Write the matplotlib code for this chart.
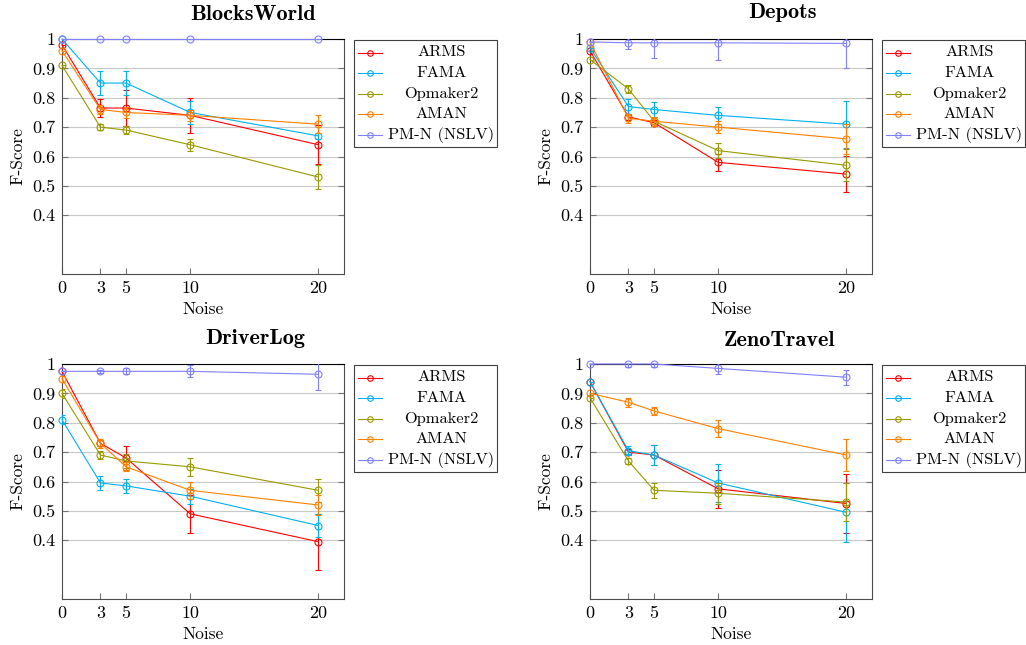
import matplotlib
matplotlib.use("Agg")
from matplotlib import pyplot as plt
from matplotlib.patches import Rectangle
from matplotlib.lines import Line2D

plt.rcParams['font.family'] = 'cmr10'
plt.rcParams['axes.formatter.use_mathtext'] = True
plt.rcParams['font.size'] = 12

noise = [0, 3, 5, 10, 20]
methods = ['ARMS', 'FAMA', 'Opmaker2', 'AMAN', 'PM-N (NSLV)']
colors = ['#ff0000', '#00b0f0', '#999900', '#ff8000', '#8080ff']
domains = ['BlocksWorld', 'Depots', 'DriverLog', 'ZenoTravel']

# rows follow methods: ARMS, FAMA, Opmaker2, AMAN, PM-N
blocks_mean = [[0.98, 0.765, 0.765, 0.74, 0.64],
               [1.0, 0.85, 0.85, 0.75, 0.67],
               [0.91, 0.70, 0.69, 0.64, 0.53],
               [0.96, 0.76, 0.75, 0.74, 0.71],
               [1.0, 1.0, 1.0, 1.0, 1.0]]
blocks_err = [[0.0, 0.03, 0.06, 0.06, 0.066],
              [0.0, 0.04, 0.04, 0.04, 0.01],
              [0.0, 0.01, 0.015, 0.02, 0.04],
              [0.0, 0.015, 0.02, 0.02, 0.03],
              [0.0, 0.0, 0.0, 0.0, 0.0]]

depots_mean = [[0.96, 0.735, 0.715, 0.58, 0.54],
               [0.97, 0.77, 0.76, 0.74, 0.71],
               [0.93, 0.83, 0.72, 0.62, 0.57],
               [0.99, 0.73, 0.72, 0.70, 0.66],
               [0.99, 0.987, 0.987, 0.987, 0.985]]
depots_err = [[0.0, 0.01, 0.01, 0.03, 0.06],
              [0.0, 0.025, 0.025, 0.03, 0.08],
              [0.0, 0.015, 0.015, 0.025, 0.055],
              [0.0, 0.015, 0.015, 0.02, 0.05],
              [0.0, 0.02, 0.05, 0.06, 0.085]]

driver_mean = [[0.975, 0.73, 0.68, 0.49, 0.395],
               [0.81, 0.595, 0.585, 0.55, 0.45],
               [0.90, 0.69, 0.67, 0.65, 0.57],
               [0.95, 0.73, 0.65, 0.57, 0.52],
               [0.975, 0.975, 0.975, 0.975, 0.965]]
driver_err = [[0.0, 0.01, 0.04, 0.065, 0.095],
              [0.015, 0.025, 0.025, 0.025, 0.04],
              [0.015, 0.015, 0.025, 0.03, 0.04],
              [0.01, 0.015, 0.015, 0.03, 0.035],
              [0.0, 0.005, 0.01, 0.02, 0.055]]

zeno_mean = [[0.94, 0.70, 0.69, 0.575, 0.525],
             [0.94, 0.705, 0.69, 0.595, 0.495],
             [0.885, 0.67, 0.57, 0.56, 0.53],
             [0.90, 0.87, 0.84, 0.78, 0.69],
             [1.0, 1.0, 1.0, 0.985, 0.955]]
zeno_err = [[0.0, 0.01, 0.035, 0.065, 0.10],
            [0.0, 0.015, 0.035, 0.065, 0.10],
            [0.0, 0.01, 0.025, 0.035, 0.065],
            [0.0, 0.015, 0.015, 0.03, 0.055],
            [0.0, 0.01, 0.01, 0.02, 0.025]]

means = [blocks_mean, depots_mean, driver_mean, zeno_mean]
errs = [blocks_err, depots_err, driver_err, zeno_err]

fig = plt.figure(figsize=(10.26, 6.45), dpi=100)
W, H = 1026, 645
# axes boxes in pixels (left, top)
boxes = [(62, 39), (590, 39), (62, 364), (590, 364)]
title_pos = [(253, 14), (782, 12), (255, 338), (780, 340)]
aw, ah = 282, 235

yt = [0.4, 0.5, 0.6, 0.7, 0.8, 0.9, 1.0]
ytl = ['0.4', '0.5', '0.6', '0.7', '0.8', '0.9', '1']


def legend_box(ax):
    ax.add_patch(Rectangle((1.035, 0.54), 0.507, 0.456, transform=ax.transAxes,
                           fill=False, edgecolor='0.25', linewidth=0.8, clip_on=False))
    for k, (m, c) in enumerate(zip(methods, colors)):
        yy = 0.942 - k * 0.0872
        ax.add_line(Line2D([1.05, 1.136], [yy, yy], transform=ax.transAxes, color=c,
                           linewidth=0.8, clip_on=False))
        ax.add_line(Line2D([1.092], [yy], transform=ax.transAxes, color=c, marker='o',
                           markersize=4, markerfacecolor='none', markeredgewidth=0.8,
                           clip_on=False))
        ax.text(1.345, yy, m, transform=ax.transAxes, ha='center', va='center', fontsize=11.8)


for i, dom in enumerate(domains):
    l, t = boxes[i]
    ax = fig.add_axes([l / W, 1 - (t + ah) / H, aw / W, ah / H])
    for j in range(len(methods)):
        ax.errorbar(noise, means[i][j], yerr=errs[i][j], color=colors[j], linewidth=0,
                    elinewidth=0.8, capsize=2.3, capthick=0.8, fmt='none', zorder=3 + j)
        ax.plot(noise, means[i][j], color=colors[j], linewidth=0.8, marker='o',
                markersize=5, markerfacecolor='none', markeredgewidth=0.8,
                clip_on=False, zorder=3 + j)
    ax.set_xlim(0, 22)
    ax.set_ylim(0.2, 1.0)
    ax.set_xticks(noise)
    ax.set_xticklabels([str(n) for n in noise])
    ax.set_yticks(yt)
    ax.set_yticklabels(ytl)
    ax.yaxis.grid(True, color='#c8c8c8', linewidth=0.8)
    ax.set_axisbelow(True)
    ax.tick_params(axis='y', direction='in', left=True, right=True, length=4,
                   color='0.45', labelsize=13, pad=5)
    ax.tick_params(axis='x', direction='in', length=4, color='0.45', labelsize=13, pad=5)
    for s in ['left', 'right', 'bottom']:
        ax.spines[s].set_color('0.3')
    ax.spines['top'].set_color('black')
    ax.set_xlabel('Noise', fontsize=12.5, labelpad=4)
    ax.set_ylabel('F-Score', fontsize=12.5, labelpad=5)
    legend_box(ax)
    tx, ty = title_pos[i]
    fig.text(tx / W, 1 - ty / H, dom, ha='center', va='center', family='cmb10', fontsize=16)

fig.savefig('out.png', dpi=100)
